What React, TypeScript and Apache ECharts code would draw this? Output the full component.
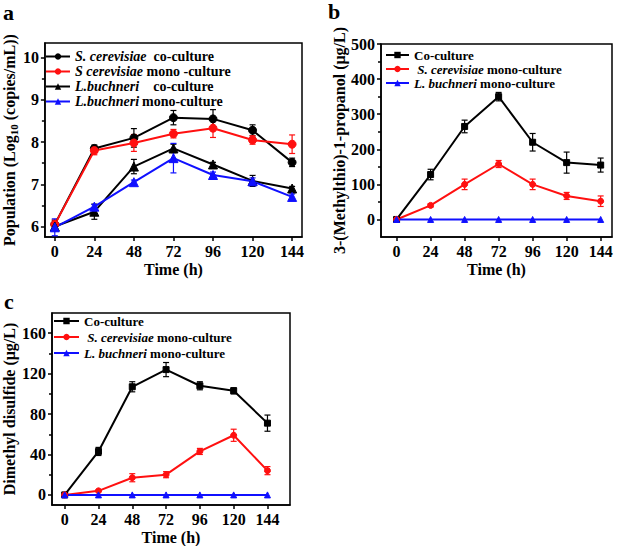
import React, { useEffect, useRef } from "react";
import * as echarts from "echarts";

const FONT = '"Liberation Serif", "Times New Roman", serif';

const hours = [0, 24, 48, 72, 96, 120, 144];

// Panel a: population (log10 copies/mL)
const aScCo = [6.05, 7.85, 8.1, 8.58, 8.55, 8.28, 7.52];
const aScCoErr = [0.1, 0.08, 0.22, 0.17, 0.22, 0.13, 0.1];
const aScMono = [6.05, 7.8, 7.98, 8.2, 8.33, 8.05, 7.95];
const aScMonoErr = [0.1, 0.1, 0.2, 0.1, 0.22, 0.1, 0.22];
const aLbCo = [6.0, 6.35, 7.42, 7.85, 7.47, 7.08, 6.9];
const aLbCoErr = [0.08, 0.18, 0.17, 0.1, 0.05, 0.13, 0.05];
const aLbMono = [5.98, 6.47, 7.05, 7.62, 7.22, 7.07, 6.7];
const aLbMonoErr = [0.2, 0.05, 0.05, 0.35, 0.07, 0.08, 0.07];
const aYTicks = [6, 7, 8, 9, 10];
const aYMinor = [6.5, 7.5, 8.5, 9.5];

// Panel b: 3-(Methylthio)-1-propanol (µg/L)
const bCo = [0, 128, 265, 350, 220, 162, 155];
const bCoErr = [0, 15, 18, 12, 25, 30, 20];
const bSc = [0, 40, 100, 158, 100, 67, 52];
const bScErr = [0, 5, 15, 10, 15, 10, 15];
const bLb = [0, 0, 0, 0, 0, 0, 0];
const bYTicks = [0, 100, 200, 300, 400, 500];
const bYMinor = [50, 150, 250, 350, 450];

// Panel c: Dimethyl disulfide (µg/L)
const cCo = [0, 43, 107, 124, 108, 103, 71];
const cCoErr = [0, 4, 5, 7, 4, 3, 8];
const cSc = [0, 4, 17, 20, 43, 59, 24];
const cScErr = [0, 1, 4, 3, 3, 6, 4];
const cLb = [0, 0, 0, 0, 0, 0, 0];
const cYTicks = [0, 40, 80, 120, 160];
const cYMinor = [20, 60, 100, 140];

// Legend labels: series name -> [italic part, rest]
const legendParts: Record<string, [string, string]> = {
  "S. cerevisiae co-culture": ["S. cerevisiae", "  co-culture"],
  "S cerevisiae mono -culture": ["S cerevisiae", " mono -culture"],
  "L.buchneri co-culture": ["L.buchneri", "    co-culture"],
  "L.buchneri mono-culture": ["L.buchneri", "\u2009mono-culture"],
  "Co-culture": ["", "Co-culture"],
  "S. cerevisiae mono-culture": [" S. cerevisiae", " mono-culture"],
  "L. buchneri mono-culture": ["L. buchneri", " mono-culture"],
};

const BLACK = "#000000";
const RED = "#ff1010";
const BLUE = "#1010ff";

function errData(v: number[], e: number[]) {
  return hours.map((h, i) => [h, v[i] - e[i], v[i] + e[i]]);
}

function errSeries(name: string, v: number[], e: number[], color: string, idx: number) {
  return {
    type: "custom",
    name: name + "_err",
    xAxisIndex: idx,
    yAxisIndex: idx * 2,
    data: errData(v, e),
    encode: { x: 0, y: [1, 2] },
    z: 3,
    renderItem: (params: any, api: any) => {
      const x = api.value(0);
      const lo = api.coord([x, api.value(1)]);
      const hi = api.coord([x, api.value(2)]);
      const w = 3;
      const style = { stroke: color, lineWidth: 1.2 };
      return {
        type: "group",
        children: [
          { type: "line", shape: { x1: lo[0], y1: lo[1], x2: hi[0], y2: hi[1] }, style },
          { type: "line", shape: { x1: lo[0] - w, y1: lo[1], x2: lo[0] + w, y2: lo[1] }, style },
          { type: "line", shape: { x1: hi[0] - w, y1: hi[1], x2: hi[0] + w, y2: hi[1] }, style },
        ],
      };
    },
  };
}

function lineSeries(
  name: string,
  v: number[],
  color: string,
  idx: number,
  symbol: string,
  size: number,
  width: number
) {
  return {
    type: "line",
    name,
    xAxisIndex: idx,
    yAxisIndex: idx * 2,
    data: hours.map((h, i) => [h, v[i]]),
    symbol,
    symbolSize: size,
    showSymbol: true,
    lineStyle: { color, width },
    itemStyle: { color, borderColor: color },
    z: 4,
  };
}

const tickText = { fontFamily: FONT, fontWeight: "bold", fontSize: 16, color: "#000" };

function xAxis(idx: number, min: number, max: number) {
  return {
    type: "value",
    gridIndex: idx,
    min,
    max,
    name: "Time (h)",
    nameLocation: "middle",
    nameGap: 24,
    nameTextStyle: { ...tickText },
    axisLine: { show: true, onZero: false, lineStyle: { color: "#000", width: 1.5 } },
    axisTick: { show: true, customValues: hours, length: 4, lineStyle: { color: "#000", width: 1.5 } },
    axisLabel: { ...tickText, customValues: hours, margin: 6 },
    splitLine: { show: false },
  };
}

function yAxes(
  idx: number,
  min: number,
  max: number,
  ticks: number[],
  minor: number[],
  name: string,
  nameGap: number,
  rich?: any
) {
  return [
    {
      type: "value",
      gridIndex: idx,
      position: "left",
      min,
      max,
      name,
      nameLocation: "middle",
      nameGap,
      nameTextStyle: { ...tickText, rich },
      axisLine: { show: true, onZero: false, lineStyle: { color: "#000", width: 1.5 } },
      axisTick: { show: true, customValues: ticks, length: 4, lineStyle: { color: "#000", width: 1.5 } },
      axisLabel: { ...tickText, customValues: ticks, margin: 6 },
      splitLine: { show: false },
    },
    {
      type: "value",
      gridIndex: idx,
      position: "left",
      min,
      max,
      axisLine: { show: false, onZero: false },
      axisTick: { show: true, customValues: minor, length: 3, lineStyle: { color: "#000", width: 1.5 } },
      axisLabel: { show: false },
      splitLine: { show: false },
    },
  ];
}

function legend(names: string[], left: number, top: number, lineH: number, itemW: number, fs: number) {
  return {
    data: names,
    orient: "vertical",
    left,
    top,
    itemWidth: itemW,
    itemHeight: 8,
    itemGap: 0,
    padding: 0,
    selectedMode: false,
    formatter: (n: string) => {
      const p = legendParts[n];
      if (!p) return n;
      return (p[0] ? "{i|" + p[0] + "}" : "") + "{n|" + p[1] + "}";
    },
    textStyle: {
      fontFamily: FONT,
      fontWeight: "bold",
      fontSize: fs,
      color: "#000",
      lineHeight: lineH,
      rich: {
        i: { fontFamily: FONT, fontWeight: "bold", fontStyle: "italic", fontSize: fs, color: "#000", lineHeight: lineH },
        n: { fontFamily: FONT, fontWeight: "bold", fontSize: fs, color: "#000", lineHeight: lineH },
      },
    },
  };
}

export default function App() {
  const ref = useRef<HTMLDivElement>(null);
  useEffect(() => {
    if (!ref.current) return;
    const chart = echarts.init(ref.current, undefined, { renderer: "svg" });
    const gridBase = { show: true, borderColor: "#000", borderWidth: 1.5, backgroundColor: "transparent", containLabel: false };
    const option: any = {
      animation: false,
      backgroundColor: "#ffffff",
      grid: [
        { ...gridBase, left: 36, top: 43, width: 266, height: 194 },
        { ...gridBase, left: 381, top: 44, width: 231, height: 193 },
        { ...gridBase, left: 50, top: 313, width: 240, height: 194 },
      ],
      xAxis: [xAxis(0, -6, 150), xAxis(1, -11, 152), xAxis(2, -9, 160)],
      yAxis: [
        ...yAxes(0, 5.75, 10.35, aYTicks, aYMinor, "Population (Log{sub|10} (copies/mL))", 18, {
          sub: { fontFamily: FONT, fontWeight: "bold", fontSize: 11, color: "#000", padding: [9, 0, 0, 0] },
        }),
        ...yAxes(1, -50, 500, bYTicks, bYMinor, "3-(Methylthio)-1-propanol (μg/L)", 34),
        ...yAxes(2, -10, 180, cYTicks, cYMinor, "Dimethyl disulfide (μg/L)", 35),
      ],
      legend: [
        legend(
          ["S. cerevisiae co-culture", "S cerevisiae mono -culture", "L.buchneri co-culture", "L.buchneri mono-culture"],
          45,
          49,
          15,
          24,
          14
        ),
        legend(["Co-culture", "S. cerevisiae mono-culture", "L. buchneri mono-culture"], 385, 48, 14, 23, 13),
        legend(["Co-culture", "S. cerevisiae mono-culture", "L. buchneri mono-culture"], 53, 313, 16, 25, 13),
      ],
      graphic: [
        { type: "text", left: 3, top: 1, style: { text: "a", font: 'bold 22px "Liberation Serif"', fill: "#000" } },
        { type: "text", left: 328, top: 0, style: { text: "b", font: 'bold 22px "Liberation Serif"', fill: "#000" } },
        { type: "text", left: 4, top: 290, style: { text: "c", font: 'bold 22px "Liberation Serif"', fill: "#000" } },
      ],
      series: [
        lineSeries("S. cerevisiae co-culture", aScCo, BLACK, 0, "circle", 8, 2),
        lineSeries("S cerevisiae mono -culture", aScMono, RED, 0, "circle", 8, 2),
        lineSeries("L.buchneri co-culture", aLbCo, BLACK, 0, "triangle", 9, 2),
        lineSeries("L.buchneri mono-culture", aLbMono, BLUE, 0, "triangle", 9, 2),
        errSeries("aScCo", aScCo, aScCoErr, BLACK, 0),
        errSeries("aScMono", aScMono, aScMonoErr, RED, 0),
        errSeries("aLbCo", aLbCo, aLbCoErr, BLACK, 0),
        errSeries("aLbMono", aLbMono, aLbMonoErr, BLUE, 0),

        lineSeries("Co-culture", bCo, BLACK, 1, "rect", 6, 2),
        lineSeries("S. cerevisiae mono-culture", bSc, RED, 1, "circle", 6, 2),
        lineSeries("L. buchneri mono-culture", bLb, BLUE, 1, "triangle", 6, 2),
        errSeries("bCo", bCo, bCoErr, BLACK, 1),
        errSeries("bSc", bSc, bScErr, RED, 1),

        lineSeries("Co-culture", cCo, BLACK, 2, "rect", 6, 2),
        lineSeries("S. cerevisiae mono-culture", cSc, RED, 2, "circle", 6, 2),
        lineSeries("L. buchneri mono-culture", cLb, BLUE, 2, "triangle", 6, 2),
        errSeries("cCo", cCo, cCoErr, BLACK, 2),
        errSeries("cSc", cSc, cScErr, RED, 2),
      ],
    };
    chart.setOption(option);
    return () => chart.dispose();
  }, []);
  return (
    <div
      ref={ref}
      style={{ position: "fixed", left: 0, top: 0, width: 625, height: 546, background: "#fff" }}
    />
  );
}
